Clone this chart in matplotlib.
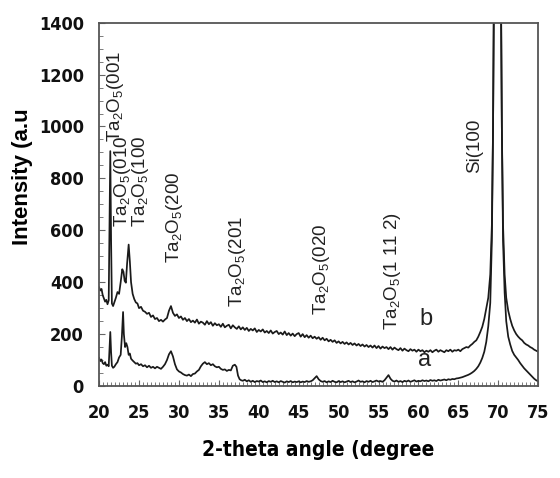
import numpy as np
import matplotlib
matplotlib.use('Agg')
import matplotlib.pyplot as plt
from matplotlib.ticker import MultipleLocator
from matplotlib.font_manager import FontProperties

# XRD patterns
b_x = [20.0, 20.15, 20.3, 20.45, 20.6, 20.75, 20.9, 21.05, 21.2, 21.3, 21.4, 21.5, 21.6, 21.75, 21.9,
       22.1, 22.3, 22.5, 22.7, 22.9, 23.05, 23.2, 23.35, 23.5, 23.7, 23.85, 24.0, 24.2, 24.4, 24.6, 24.8,
       25.0, 25.25, 25.5, 25.75, 26.0, 26.25, 26.5, 26.75, 27.0, 27.25, 27.5, 27.75, 28.0, 28.25, 28.5, 28.75,
       29.0, 29.25, 29.5, 29.75, 30.0, 30.25, 30.5, 30.75, 31.0, 31.25, 31.5, 31.75, 32.0, 32.25, 32.5, 32.75,
       33.0, 33.25, 33.5, 33.75, 34.0, 34.25, 34.5, 34.75, 35.0, 35.25, 35.5, 35.75, 36.0, 36.25, 36.5, 36.75,
       37.0, 37.25, 37.5, 37.75, 38.0, 38.25, 38.5, 38.75, 39.0, 39.25, 39.5, 39.75, 40.0, 40.25, 40.5, 40.75,
       41.0, 41.25, 41.5, 41.75, 42.0, 42.25, 42.5, 42.75, 43.0, 43.25, 43.5, 43.75, 44.0, 44.25, 44.5, 44.75,
       45.0, 45.25, 45.5, 45.75, 46.0, 46.25, 46.5, 46.75, 47.0, 47.25, 47.5, 47.75, 48.0, 48.25, 48.5, 48.75,
       49.0, 49.25, 49.5, 49.75, 50.0, 50.25, 50.5, 50.75, 51.0, 51.25, 51.5, 51.75, 52.0, 52.25, 52.5, 52.75,
       53.0, 53.25, 53.5, 53.75, 54.0, 54.25, 54.5, 54.75, 55.0, 55.25, 55.5, 55.75, 56.0, 56.25, 56.5, 56.75,
       57.0, 57.25, 57.5, 57.75, 58.0, 58.25, 58.5, 58.75, 59.0, 59.25, 59.5, 59.75, 60.0, 60.25, 60.5, 60.75,
       61.0, 61.25, 61.5, 61.75, 62.0, 62.25, 62.5, 62.75, 63.0, 63.25, 63.5, 63.75, 64.0, 64.25, 64.5, 64.75,
       65.0, 65.25, 65.5, 65.75, 66.0, 66.25, 66.5, 66.75, 67.0, 67.25, 67.5, 67.75, 68.0, 68.25, 68.5, 68.75,
       69.0, 69.2, 69.35, 69.45, 69.6, 69.9, 70.2, 70.35, 70.45, 70.6, 70.8, 71.0, 71.25, 71.5, 71.75,
       72.0, 72.25, 72.5, 72.75, 73.0, 73.25, 73.5, 73.75, 74.0, 74.25, 74.5, 74.75, 75.0]
b_y = [380, 368, 374, 350, 338, 325, 332, 315, 330, 600, 905, 560, 318, 308, 322,
       340, 362, 355, 400, 450, 440, 405, 398, 470, 545, 480, 400, 355, 335, 322, 318,
       300, 305, 290, 286, 278, 282, 266, 272, 258, 262, 250, 255, 248, 256, 262, 290,
       308, 282, 270, 276, 262, 268, 255, 262, 250, 258, 246, 252, 244, 256, 240, 248,
       244, 236, 250, 238, 246, 232, 242, 234, 238, 228, 240, 226, 232, 236, 222, 234,
       226, 220, 230, 218, 226, 216, 224, 212, 220, 214, 222, 208, 216, 210, 218, 206,
       212, 204, 214, 202, 208, 212, 200, 206, 198, 210, 196, 204, 194, 202, 192, 200,
       204, 190, 200, 188, 196, 186, 194, 184, 190, 182, 188, 178, 186, 176, 182, 172,
       178, 170, 176, 166, 172, 164, 170, 162, 168, 160, 166, 158, 164, 156, 162, 154,
       160, 152, 158, 150, 156, 148, 156, 146, 154, 144, 152, 146, 150, 142, 150, 140,
       148, 142, 138, 146, 136, 144, 138, 134, 142, 136, 140, 132, 140, 134, 138, 130,
       136, 132, 138, 130, 136, 140, 132, 138, 134, 130, 138, 134, 140, 132, 138, 136,
       140, 134, 142, 146, 150, 148, 156, 162, 170, 176, 190, 208, 228, 258, 300, 340,
       430, 620, 1000, 1450, 2500, 4000, 2500, 1450, 1000, 620, 430, 340, 290, 258, 232,
       214, 200, 190, 182, 176, 166, 160, 156, 150, 146, 140, 136, 132]

a_x = [20.0, 20.15, 20.3, 20.45, 20.6, 20.75, 20.9, 21.05, 21.2, 21.3, 21.4, 21.5, 21.6, 21.75, 21.9,
       22.1, 22.3, 22.5, 22.7, 22.85, 23.0, 23.1, 23.25, 23.4, 23.55, 23.7, 23.85, 24.0, 24.2, 24.4, 24.6, 24.8,
       25.0, 25.25, 25.5, 25.75, 26.0, 26.25, 26.5, 26.75, 27.0, 27.25, 27.5, 27.75, 28.0, 28.25, 28.5, 28.75,
       29.0, 29.25, 29.5, 29.75, 30.0, 30.25, 30.5, 30.75, 31.0, 31.25, 31.5, 31.75, 32.0, 32.25, 32.5, 32.75,
       33.0, 33.25, 33.5, 33.75, 34.0, 34.25, 34.5, 34.75, 35.0, 35.25, 35.5, 35.75, 36.0, 36.25, 36.5, 36.75,
       37.0, 37.2, 37.4, 37.6, 37.8, 38.0, 38.25, 38.5, 38.75, 39.0, 39.25, 39.5, 39.75, 40.0, 40.25, 40.5, 40.75,
       41.0, 41.25, 41.5, 41.75, 42.0, 42.25, 42.5, 42.75, 43.0, 43.25, 43.5, 43.75, 44.0, 44.25, 44.5, 44.75,
       45.0, 45.25, 45.5, 45.75, 46.0, 46.25, 46.5, 46.75, 47.0, 47.25, 47.5, 47.75, 48.0, 48.25, 48.5, 48.75,
       49.0, 49.25, 49.5, 49.75, 50.0, 50.25, 50.5, 50.75, 51.0, 51.25, 51.5, 51.75, 52.0, 52.25, 52.5, 52.75,
       53.0, 53.25, 53.5, 53.75, 54.0, 54.25, 54.5, 54.75, 55.0, 55.25, 55.5, 55.75, 56.0, 56.25, 56.5, 56.75,
       57.0, 57.25, 57.5, 57.75, 58.0, 58.25, 58.5, 58.75, 59.0, 59.25, 59.5, 59.75, 60.0, 60.25, 60.5, 60.75,
       61.0, 61.25, 61.5, 61.75, 62.0, 62.25, 62.5, 62.75, 63.0, 63.25, 63.5, 63.75, 64.0, 64.25, 64.5, 64.75,
       65.0, 65.25, 65.5, 65.75, 66.0, 66.25, 66.5, 66.75, 67.0, 67.25, 67.5, 67.75, 68.0, 68.25, 68.5, 68.75,
       69.0, 69.2, 69.35, 69.45, 69.6, 69.9, 70.2, 70.35, 70.45, 70.6, 70.8, 71.0, 71.25, 71.5, 71.75,
       72.0, 72.25, 72.5, 72.75, 73.0, 73.25, 73.5, 73.75, 74.0, 74.25, 74.5, 74.75, 75.0]
a_y = [108, 96, 102, 88, 84, 92, 78, 82, 76, 140, 208, 130, 78, 70, 74,
       84, 92, 110, 120, 190, 285, 200, 150, 165, 150, 120, 125, 105, 98, 92, 86, 88,
       80, 84, 76, 80, 72, 78, 70, 74, 68, 74, 70, 66, 74, 84, 100, 122,
       134, 114, 84, 64, 56, 52, 46, 42, 40, 44, 38, 46, 48, 56, 62, 76,
       86, 92, 84, 88, 80, 84, 76, 72, 74, 66, 62, 64, 58, 62, 60, 78,
       82, 74, 40, 26, 22, 20, 24, 18, 22, 16, 20, 15, 19, 17, 21, 15, 18,
       14, 19, 16, 20, 15, 18, 14, 19, 16, 13, 18, 15, 19, 14, 17, 15,
       18, 14, 17, 15, 19, 16, 18, 22, 30, 38, 26, 19, 16, 19, 14, 18,
       15, 20, 16, 14, 19, 15, 18, 14, 17, 20, 15, 18, 14, 17, 21, 16,
       18, 14, 19, 16, 20, 15, 18, 21, 17, 19, 16, 22, 32, 42, 28, 20,
       17, 21, 16, 19, 15, 20, 17, 21, 16, 19, 22, 17, 20, 18, 22, 19,
       21, 18, 23, 20, 22, 19, 24, 21, 23, 25, 22, 26, 24, 27, 26, 29,
       30, 32, 34, 37, 40, 43, 47, 52, 58, 66, 76, 90, 108, 132, 170, 230,
       320, 560, 1000, 1500, 2800, 4500, 2800, 1500, 1000, 560, 360, 250, 190, 160, 135,
       120, 110, 100, 88, 78, 68, 60, 52, 44, 36, 28, 22, 18]

TA = 'Ta$_\\mathregular{2}$O$_\\mathregular{5}$'
# the (010 and (100 labels sit side by side, so they share one two-line text
peak_labels = [TA + '(001',
               TA + '(010\n' + TA + '(100',
               TA + '(200',
               TA + '(201',
               TA + '(020',
               TA + '(1 11 2)',
               'Si(100']
label_x = [22.0, 24.05, 29.5, 37.3, 47.9, 56.7, 67.1]
label_y = [940, 612, 473, 304, 273, 215, 820]

plt.rcParams['mathtext.fontset'] = 'custom'
plt.rcParams['mathtext.rm'] = 'Liberation Sans'
plt.rcParams['font.family'] = ['Liberation Sans', 'DejaVu Sans']

fig = plt.figure(figsize=(5.6, 4.78), dpi=100)
ax = fig.add_axes([0.177, 0.1925, 0.784, 0.760])

ax.plot(b_x, b_y, color='#1a1a1a', lw=1.25)
ax.plot(a_x, a_y, color='#1a1a1a', lw=1.25)

for txt, x, y in zip(peak_labels, label_x, label_y):
    ax.text(x, y, txt, rotation=90, ha='center', va='bottom', fontsize=13.5,
            color='#222222', linespacing=0.82, multialignment='left')

ax.text(61.0, 258, 'b', ha='center', va='center', fontsize=17, color='#222222')
ax.text(60.8, 100, 'a', ha='center', va='center', fontsize=17, color='#222222')

ax.set_xlim(20, 75)
ax.set_ylim(0, 1400)
ax.xaxis.set_major_locator(MultipleLocator(5))
ax.xaxis.set_minor_locator(MultipleLocator(0.5))
ax.yaxis.set_major_locator(MultipleLocator(200))
ax.yaxis.set_minor_locator(MultipleLocator(50))
ax.tick_params(which='both', direction='in', top=False, right=False, colors='#666666',
               labelcolor='#111111')
ax.tick_params(which='major', length=4, width=0.8)
ax.tick_params(which='minor', length=3, width=0.6)

tick_font = FontProperties(family='DejaVu Sans', stretch='condensed', weight='bold', size=13)
for lab in ax.get_xticklabels() + ax.get_yticklabels():
    lab.set_fontproperties(tick_font)
ax.tick_params(axis='x', pad=13)
ax.tick_params(axis='y', pad=11)

for sp in ax.spines.values():
    sp.set_color('#555555')
    sp.set_linewidth(1.3)

xlab_font = FontProperties(family='DejaVu Sans', stretch='condensed', weight='bold', size=15)
ax.set_xlabel('2-theta angle (degree', fontproperties=xlab_font, labelpad=13)
ax.set_ylabel('Intensity (a.u', fontsize=16, fontweight='bold')
ax.yaxis.set_label_coords(-0.15, 0.575)

fig.savefig('out.png', dpi=100)
